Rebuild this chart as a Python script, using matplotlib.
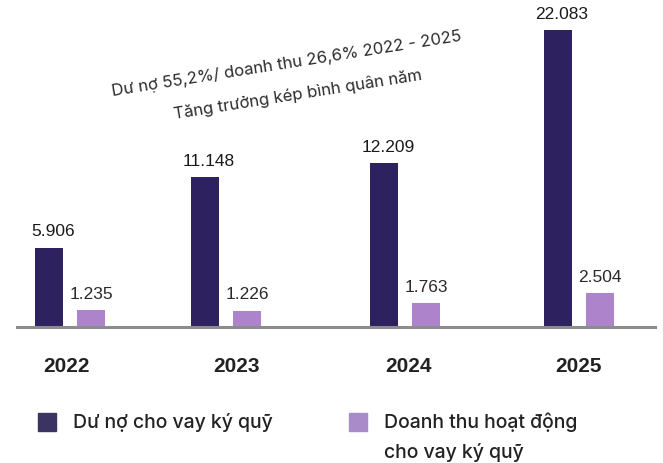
import matplotlib
matplotlib.use("Agg")
import matplotlib.pyplot as plt
from matplotlib.patches import Rectangle

# Data (tỷ đồng)
years = ["2022", "2023", "2024", "2025"]
du_no = [5906, 11148, 12209, 22083]
doanh_thu = [1235, 1226, 1763, 2504]
du_no_labels = ["5.906", "11.148", "12.209", "22.083"]
doanh_thu_labels = ["1.235", "1.226", "1.763", "2.504"]
legend_labels = [["Dư nợ cho vay ký quỹ"], ["Doanh thu hoạt động", "cho vay ký quỹ"]]
note_line1 = "Dư nợ 55,2%/ doanh thu 26,6% 2022 - 2025"
note_line2 = "Tăng trưởng kép bình quân năm"

# Layout
W, H = 663, 463
group_x = [70, 226, 405, 579]
year_x = [67, 237, 408, 578]
bar_w = 28
offset = 21
dark = "#2d2160"
light = "#ad84cc"
label_font = ["Liberation Sans Narrow", "Liberation Sans", "DejaVu Sans"]
text_font = ["Inter", "DejaVu Sans"]

fig = plt.figure(figsize=(W / 100, H / 100), dpi=100)
fig.patch.set_facecolor("white")

baseline_px = 327
top_px = 30
ymax = 24000
px_per_unit = (baseline_px - top_px) / du_no[-1]
ax_h_px = ymax * px_per_unit
ax = fig.add_axes([0, (H - baseline_px) / H, 1, ax_h_px / H])
ax.set_xlim(0, W)
ax.set_ylim(0, ymax)
ax.axis("off")

for i in range(len(years)):
    xd = group_x[i] - offset
    xl = group_x[i] + offset
    ax.bar(xd, du_no[i], width=bar_w, color=dark)
    ax.bar(xl, doanh_thu[i], width=bar_w, color=light)
    ax.text(xd + 4, du_no[i] + 600, du_no_labels[i], ha="center", va="bottom",
            fontsize=12.5, color="#1a1a1a", family=label_font)
    ax.text(xl, doanh_thu[i] + 600, doanh_thu_labels[i], ha="center", va="bottom",
            fontsize=12.5, color="#2a2a2a", family=label_font)

ax.axhline(0, xmin=17 / W, xmax=655 / W, color="#8c8c8c", lw=2.2, clip_on=False)

for x, y in zip(year_x, years):
    fig.text(x / W, 1 - 366 / H, y, ha="center", va="center", fontsize=15,
             fontweight="bold", color="#222222", family=label_font)

# Rotated growth note
fig.text(287 / W, 1 - 64 / H, note_line1, ha="center", va="center", rotation=9,
         rotation_mode="anchor", fontsize=12, color="#2b2b2b", family=text_font)
fig.text(298 / W, 1 - 95 / H, note_line2, ha="center", va="center", rotation=9,
         rotation_mode="anchor", fontsize=12, color="#2b2b2b", family=text_font)

# Legend
for (sx, color), lines in zip([(38, "#3b3462"), (349, "#a98bc9")], legend_labels):
    fig.patches.append(Rectangle((sx / W, 1 - 431 / H), 18 / W, 18 / H,
                                 transform=fig.transFigure, color=color))
    for k, line in enumerate(lines):
        fig.text((sx + 35) / W, 1 - (422 + 31 * k) / H, line, ha="left", va="center",
                 fontsize=14, color="#222222", family=text_font, fontweight="medium")

fig.savefig("out.png", dpi=100, facecolor="white")
